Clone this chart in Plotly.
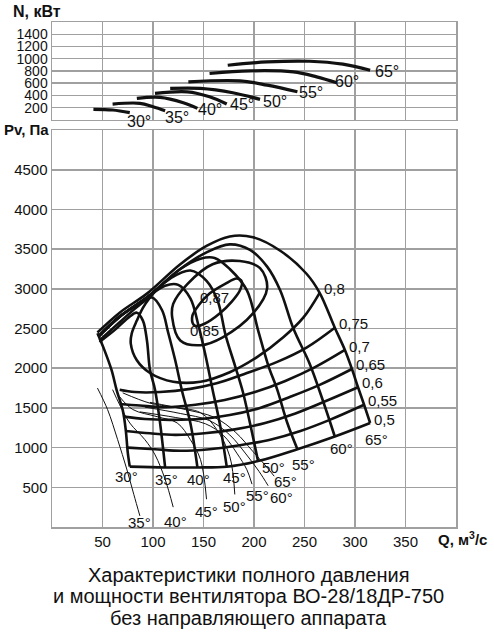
import plotly.graph_objects as go

FONT = "Arial, 'Liberation Sans', Helvetica, sans-serif"
INK = "#111111"
GRID = "#a0a0a0"

# ---------------- power curves N(Q), kW ----------------
N30_Q = [41, 60, 77];                 N30 = [174, 163, 119]
N35_Q = [60, 87, 100, 112];           N35 = [260, 272, 216, 151]
N40_Q = [84, 107, 130, 144];          N40 = [353, 369, 281, 190]
N45_Q = [102, 134, 156, 173];         N45 = [434, 460, 379, 260]
N50_Q = [117, 147, 179, 206];         N50 = [515, 515, 444, 337]
N55_Q = [135, 186, 213, 243];         N55 = [623, 639, 569, 460]
N60_Q = [156, 196, 239, 262, 282];    N60 = [759, 802, 785, 704, 607]
N65_Q = [174, 213, 255, 288, 315];    N65 = [894, 948, 959, 911, 813]

N_LABELS = ["30°", "35°", "40°", "45°", "50°", "55°", "60°", "65°"]
N_LAB_Q = [86, 124, 156, 188, 221, 256, 292, 332]
N_LAB_N = [0, 33, 163, 260, 309, 455, 634, 797]
N_LAB_SHIFT = [-2, 0, 0, 0, 0, 0, 0, 0]

# ---------------- blade-angle pressure curves Pv(Q), Pa ----------------
P30_Q = [45, 52, 59, 64, 70, 73, 75, 77]
P30 = [2440, 2225, 1975, 1725, 1475, 1225, 940, 760]
P35_Q = [47, 62, 75, 84, 90, 94, 97, 102, 107, 112]
P35 = [2330, 2480, 2630, 2700, 2600, 2350, 1980, 1730, 1310, 750]
P40_Q = [47, 67, 87, 99, 109, 115, 122, 129, 137, 144]
P40 = [2350, 2580, 2800, 2890, 2730, 2450, 2100, 1700, 1310, 750]
P45_Q = [46, 67, 94, 112, 125, 137, 145, 152, 159, 166, 173]
P45 = [2400, 2650, 2890, 3040, 3050, 2880, 2540, 2160, 1730, 1310, 760]
P50_Q = [46, 67, 94, 117, 137, 153, 164, 172, 181, 189, 196, 204]
P50 = [2400, 2650, 2890, 3130, 3230, 3100, 2850, 2410, 2040, 1700, 1310, 830]
P55_Q = [46, 67, 94, 127, 147, 161, 176, 193, 204, 214, 223, 233, 243]
P55 = [2400, 2650, 2890, 3250, 3380, 3390, 3250, 2980, 2480, 2040, 1730, 1310, 980]
P60_Q = [46, 67, 94, 127, 153, 176, 196, 213, 226, 239, 255, 268, 280]
P60 = [2400, 2650, 2890, 3250, 3460, 3560, 3490, 3280, 2980, 2500, 2060, 1600, 1140]
P65_Q = [45, 67, 94, 127, 153, 176, 199, 226, 252, 265, 280, 290, 297, 303, 309, 315]
P65 = [2450, 2700, 2940, 3310, 3540, 3660, 3650, 3480, 3190, 2950, 2510, 2230, 1990, 1760, 1540, 1310]

# thin (unstable) branches
T35_Q = [45, 55, 65, 74, 81, 87];              T35 = [1750, 1480, 1100, 730, 410, 140]
T40_Q = [60, 67, 77, 92, 102, 112, 120];       T40 = [1730, 1540, 1310, 1100, 910, 600, 250]
T45_Q = [67, 80, 104, 124, 137, 147, 153];     T45 = [1640, 1480, 1390, 1310, 1100, 850, 350]
T50_Q = [70, 97, 120, 147, 163, 176, 181];     T50 = [1690, 1560, 1510, 1440, 1230, 890, 410]
T55_Q = [87, 122, 152, 170, 183, 193, 198];    T55 = [1450, 1380, 1300, 1150, 930, 720, 540]
T60_Q = [92, 127, 156, 176, 192, 205, 214];    T60 = [1510, 1430, 1340, 1160, 920, 700, 520]
T65_Q = [97, 132, 161, 182, 199, 211, 220];    T65 = [1570, 1480, 1380, 1190, 950, 780, 640]

# ---------------- efficiency lines ----------------
E87_Q = [140, 139, 145, 156, 171, 183, 188, 186, 178, 166, 151, 143, 140]
E87 = [2550, 2660, 2790, 2940, 3060, 3130, 3090, 2980, 2840, 2690, 2560, 2530, 2550]
E85_Q = [119, 127, 147, 169, 199, 213, 206, 186, 159, 134, 120, 119]
E85 = [2640, 2350, 2290, 2390, 2690, 3010, 3260, 3350, 3310, 3060, 2810, 2640]
E80_Q = [265, 249, 229, 203, 176, 147, 120, 97, 84, 78, 79, 84, 90, 97, 103]
E80 = [2950, 2640, 2390, 2140, 1950, 1830, 1830, 1940, 2100, 2310, 2440, 2600, 2760, 2890, 2980]
E75_Q = [280, 252, 223, 193, 163, 137, 107, 82, 67]
E75 = [2510, 2260, 2080, 1940, 1810, 1740, 1700, 1700, 1730]
E70_Q = [290, 260, 231, 201, 171, 142, 112, 87, 67]
E70 = [2230, 2010, 1840, 1700, 1600, 1540, 1510, 1530, 1550]
E65_Q = [297, 265, 236, 206, 176, 147, 117, 92, 71]
E65 = [1990, 1790, 1640, 1500, 1410, 1360, 1350, 1360, 1390]
E60_Q = [303, 270, 241, 211, 181, 151, 122, 97, 73]
E60 = [1760, 1580, 1430, 1310, 1230, 1180, 1160, 1180, 1210]
E55_Q = [309, 275, 246, 216, 186, 156, 127, 102, 75]
E55 = [1540, 1350, 1210, 1100, 1030, 980, 960, 980, 1000]
E50_Q = [315, 280, 243, 204, 173, 144, 112, 77]
E50 = [1310, 1140, 980, 830, 760, 750, 750, 760]

EFF_LABELS = ["0,87", "0,85", "0,8", "0,75", "0,7", "0,65", "0,6", "0,55", "0,5"]
EFF_LAB_Q = [161, 151, 267, 282, 292, 299, 305, 311, 317]
EFF_LAB_P = [2890, 2475, 3000, 2560, 2275, 2050, 1825, 1590, 1360]
EFF_ANCHOR = ["center", "center", "left", "left", "left", "left", "left", "left", "left"]

ANG_LABELS = ["30°", "35°", "40°", "45°", "50°", "55°", "60°", "65°"]
ANG_LAB_Q = [74, 113, 145, 181, 219, 249, 287, 321]
ANG_LAB_P = [640, 600, 600, 625, 750, 790, 990, 1100]

THIN_LABELS = ["35°", "40°", "45°", "50°", "55°", "60°", "65°"]
THIN_LAB_Q = [87, 122, 153, 181, 203, 227, 231]
THIN_LAB_P = [62, 75, 190, 262, 400, 375, 575]

X_TICKS = [50, 100, 150, 200, 250, 300, 350]
P_TICKS = [500, 1000, 1500, 2000, 2500, 3000, 3500, 4000, 4500]
N_TICKS = [200, 400, 600, 800, 1000, 1200, 1400]

TITLE_LINES = ["Характеристики полного давления",
               "и мощности вентилятора ВО-28/18ДР-750",
               "без направляющего аппарата"]

fig = go.Figure()


def curve(q, v, width=2.6, xa="x", ya="y"):
    fig.add_trace(go.Scatter(x=q, y=v, mode="lines", xaxis=xa, yaxis=ya,
                             line=dict(color=INK, width=width, shape="spline", smoothing=1.0),
                             hoverinfo="skip", showlegend=False))


for q, n in [(N30_Q, N30), (N35_Q, N35), (N40_Q, N40), (N45_Q, N45),
             (N50_Q, N50), (N55_Q, N55), (N60_Q, N60), (N65_Q, N65)]:
    curve(q, n, 3.2, "x2", "y2")

for q, p in [(T35_Q, T35), (T40_Q, T40), (T45_Q, T45), (T50_Q, T50),
             (T55_Q, T55), (T60_Q, T60), (T65_Q, T65)]:
    curve(q, p, 1.0)

for q, p in [(P30_Q, P30), (P35_Q, P35), (P40_Q, P40), (P45_Q, P45),
             (P50_Q, P50), (P55_Q, P55), (P60_Q, P60), (P65_Q, P65)]:
    curve(q, p, 2.6)

for q, p in [(E87_Q, E87), (E85_Q, E85), (E80_Q, E80), (E75_Q, E75), (E70_Q, E70),
             (E65_Q, E65), (E60_Q, E60), (E55_Q, E55), (E50_Q, E50)]:
    curve(q, p, 2.6)

ann = []
for t, q, n, s in zip(N_LABELS, N_LAB_Q, N_LAB_N, N_LAB_SHIFT):
    ann.append(dict(x=q, y=n, xref="x2", yref="y2", text=t, showarrow=False, yshift=s,
                    xanchor="center", yanchor="middle",
                    font=dict(size=16, color=INK, family=FONT)))
for t, q, p, a in zip(EFF_LABELS, EFF_LAB_Q, EFF_LAB_P, EFF_ANCHOR):
    ann.append(dict(x=q, y=p, xref="x", yref="y", text=t, showarrow=False, xanchor=a,
                    yanchor="middle", font=dict(size=15, color=INK, family=FONT)))
for t, q, p in zip(ANG_LABELS, ANG_LAB_Q, ANG_LAB_P):
    ann.append(dict(x=q, y=p, xref="x", yref="y", text=t, showarrow=False,
                    xanchor="center", yanchor="middle",
                    font=dict(size=15, color=INK, family=FONT)))
for t, q, p in zip(THIN_LABELS, THIN_LAB_Q, THIN_LAB_P):
    ann.append(dict(x=q, y=p, xref="x", yref="y", text=t, showarrow=False,
                    xanchor="center", yanchor="middle",
                    font=dict(size=15, color=INK, family=FONT)))

ann.append(dict(x=-0.037, y=1.02, xref="paper", yref="paper", text="<b>N, кВт</b>",
                xanchor="center", yanchor="middle",
                showarrow=False, font=dict(size=16, color=INK, family=FONT)))
ann.append(dict(x=-0.062, y=0.788, xref="paper", yref="paper", text="<b>Pv, Па</b>",
                xanchor="center", yanchor="middle",
                showarrow=False, font=dict(size=15, color=INK, family=FONT)))
ann.append(dict(x=1.017, y=-0.022, xref="paper", yref="paper", text="<b>Q, м<sup>3</sup>/с</b>",
                xanchor="center", yanchor="middle",
                showarrow=False, font=dict(size=15, color=INK, family=FONT)))
for t, yy in zip(TITLE_LINES, [-0.095, -0.1376, -0.1802]):
    ann.append(dict(x=0.4876, y=yy, xref="paper", yref="paper", text=t, showarrow=False,
                    xanchor="center", yanchor="middle",
                    font=dict(size=20, color=INK, family=FONT)))

axis_common = dict(showgrid=True, gridcolor=GRID, gridwidth=1.5, showline=True,
                   linecolor=GRID, linewidth=1.5, mirror=True, zeroline=False, ticks="")

fig.update_layout(
    width=494, height=636,
    margin=dict(l=52, r=38, t=22, b=109),
    paper_bgcolor="white", plot_bgcolor="white",
    showlegend=False,
    xaxis=dict(domain=[0, 1], range=[0, 400], tickvals=X_TICKS, anchor="y",
               tickfont=dict(size=15, color=INK, family=FONT), **axis_common),
    yaxis=dict(domain=[0, 0.786], range=[0, 5000], tickvals=P_TICKS, anchor="x",
               tickfont=dict(size=15, color=INK, family=FONT), **axis_common),
    xaxis2=dict(domain=[0, 1], range=[0, 400], tickvals=X_TICKS, anchor="y2",
                showticklabels=False, **axis_common),
    yaxis2=dict(domain=[0.806, 1], range=[0, 1600], tickvals=N_TICKS, anchor="x2",
                tickfont=dict(size=14, color=INK, family=FONT), **axis_common),
    annotations=ann,
)

fig.write_html("out.html",
               config={"displayModeBar": False, "staticPlot": True},
               post_script="document.body.style.margin='0';document.body.style.overflow='hidden';")
